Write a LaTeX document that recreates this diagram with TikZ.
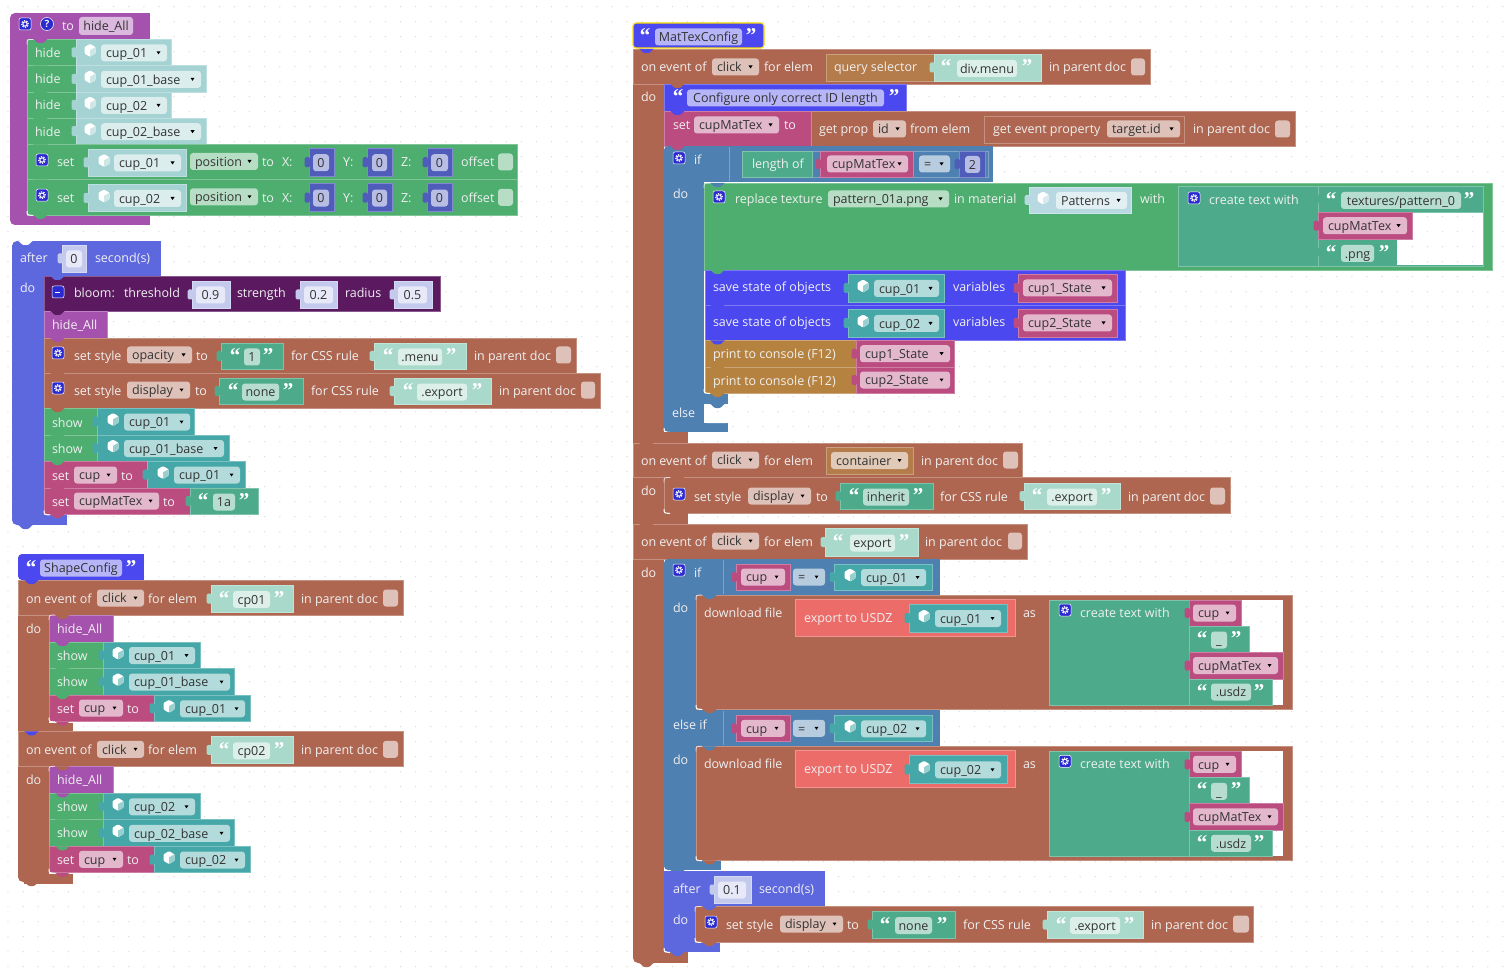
\documentclass[tikz,border=0pt]{standalone}
\usepackage{fontspec}
\setmainfont{Open Sans}
\newfontfamily\qf{Liberation Serif}
\definecolor{cGreen}{HTML}{4DAE6F}
\definecolor{cPurple}{HTML}{A552AE}
\definecolor{cTealL}{HTML}{A5D2D2}
\definecolor{cTeal}{HTML}{45A7A7}
\definecolor{cMath}{HTML}{4F5CBA}
\definecolor{cMathL}{HTML}{C4CAEE}
\definecolor{cBrown}{HTML}{AE6650}
\definecolor{cIndigo}{HTML}{5D68DF}
\definecolor{cBloom}{HTML}{5B1A60}
\definecolor{cPink}{HTML}{BB4C80}
\definecolor{cQuote}{HTML}{4A48EE}
\definecolor{cIf}{HTML}{4E80B2}
\definecolor{cPrint}{HTML}{B58240}
\definecolor{cQuery}{HTML}{B47B4B}
\definecolor{cRed}{HTML}{EC6C6A}
\definecolor{cStr}{HTML}{4DAB8C}
\definecolor{cMint}{HTML}{A9D9CA}
\definecolor{cPat}{HTML}{B8D9E2}
\definecolor{cDot}{HTML}{DADADA}
\definecolor{cInk}{HTML}{333333}
\definecolor{cIcon}{HTML}{2A2AD0}
\tikzset{
  lbl/.style={anchor=base west,inner sep=0pt,outer sep=0pt,text=white!94!black,font=\fontsize{12.5}{15}\selectfont},
  ink/.style={lbl,text=cInk},
  inkc/.style={ink,anchor=base},
  fld/.style={fill=white,fill opacity=.6,rounded corners=3pt,draw=none},
}
\newcount\nn
\newcommand\B[5]{\path[fill=#1,draw=#1!72!white,line width=.7pt] (#2,#3) rectangle (#4,#5);}
\newcommand\Tb[3]{\fill[#3,rounded corners=1.5pt] ({#1-4.5},{#2-5}) rectangle ({#1+1},{#2+5});}
\newcommand\Bp[3]{\fill[#3] ({#1+6},#2) .. controls ({#1+8},#2) and ({#1+9},{#2+4}) .. ({#1+12},{#2+4}) -- ({#1+15},{#2+4}) .. controls ({#1+18},{#2+4}) and ({#1+19},#2) .. ({#1+21},#2) -- cycle;}
\newcommand\T[3]{\global\advance\nn by 1 \node[lbl] (n\the\nn) at (#1,{#2+5}) {#3};}
\newcommand\FD[4]{\path[fld] (#1,{#3-8.5}) rectangle (#2,{#3+8.5});
  \global\advance\nn by 1 \node[ink] (n\the\nn) at ({#1+5},{#3+4.7}) {#4};
  \fill[black] ({#2-10.5},{#3-1.5}) -- ({#2-6.5},{#3-1.5}) -- ({#2-8.5},{#3+1.5}) -- cycle;}
\newcommand\FT[4]{\path[fld] (#1,{#3-8.5}) rectangle (#2,{#3+8.5});
  \global\advance\nn by 1 \node[inkc] (n\the\nn) at ({(#1+#2)/2},{#3+4.7}) {#4};}
\newcommand\Qo[2]{\global\advance\nn by 1 \node[anchor=base,inner sep=0pt,text=white,font=\qf\bfseries\fontsize{21}{21}\selectfont] (n\the\nn) at (#1,{#2+9.5}) {“};}
\newcommand\Qc[2]{\global\advance\nn by 1 \node[anchor=base,inner sep=0pt,text=white,font=\qf\bfseries\fontsize{21}{21}\selectfont] (n\the\nn) at (#1,{#2+9.5}) {”};}
\newcommand\Gear[2]{\fill[cIcon,draw=white,line width=.5pt,rounded corners=2pt] ({#1-6},{#2-6}) rectangle ({#1+6},{#2+6});
  \draw[white,line width=1pt] (#1,#2) circle (2.2pt);
  \draw[white,line width=1.1pt,dash pattern=on 1.2pt off 1.4pt] (#1,#2) circle (3.4pt);}
\newcommand\Cube[3]{\fill[white,rounded corners=1pt] (#1,{#2-6.5}) -- ({#1+5.5},{#2-3.2}) -- ({#1+5.5},{#2+3.2}) -- (#1,{#2+6.5}) -- ({#1-5.5},{#2+3.2}) -- ({#1-5.5},{#2-3.2}) -- cycle;
  \fill[#3!55!white] (#1,{#2-.2}) -- ({#1+5.5},{#2-3.2}) -- ({#1+5.5},{#2+3.2}) -- (#1,{#2+6.5}) -- cycle;}
\newcommand\Ic[2]{\draw[white,line width=1pt] (#1,{#2-4}) .. controls (#1,#2) .. ({#1+6},{#2+.5});}
\newcommand\Ict[2]{\draw[white,opacity=.7,line width=.8pt] (#1,{#2+5}) .. controls (#1,#2) .. ({#1+6},#2);}
% value blocks
\newcommand\CV[9]{\B{#1}{#2}{#4}{#3}{#5}\pgfmathsetmacro\cy{(#4+#5)/2}\Tb{#2}{\cy}{#1}\Cube{#6}{\cy-2}{#1}\FD{#7}{#8}{\cy+.5}{#9}}
\newcommand\VV[7]{\B{cPink}{#1}{#3}{#2}{#4}\pgfmathsetmacro\cy{(#3+#4)/2}\Tb{#1}{\cy}{cPink}\FD{#5}{#6}{\cy}{#7}}
\newcommand\NV[8]{\B{#1}{#2}{#4}{#3}{#5}\pgfmathsetmacro\cy{(#4+#5)/2}\Tb{#2}{\cy}{#1}\FT{#6}{#7}{\cy+.5}{#8}}
\newcommand\SV[6]{\B{#1}{#2}{#4}{#3}{#5}\pgfmathsetmacro\cy{(#4+#5)/2}\Tb{#2}{\cy}{#1}\SVb#6}
\newcommand\SVb[5]{\Qo{#1}{\cy-3}\FT{#2}{#3}{\cy+1}{#5}\Qc{#4}{\cy-3}}
\newcommand\IPD[4]{\T{#1}{#2}{in parent doc}\path[fld] (#3,{#2-8.5}) rectangle (#4,{#2+8.5});}
\newcommand\DotGrid[2]{\pgfmathtruncatemacro\ja{floor((#1-6.7)/15)}\pgfmathtruncatemacro\jb{ceil((#2-6.7)/15)}%
  \foreach \j in {\ja,...,\jb}{\draw[cDot,line width=1.4pt,line cap=round,dash pattern=on 0pt off 15.1pt] (8,{6.7+15*\j}) -- (1512,{6.7+15*\j});}}
\newcommand\Hole[4]{\begin{scope}\clip (#1,#2) rectangle (#3,#4);\fill[white] (#1,#2) rectangle (#3,#4);\DotGrid{#2}{#4}\end{scope}}
\newcommand\Spine[5]{\fill[#1,rounded corners=5pt] (#2,#3) rectangle ({#2+14},#5);\fill[#1] ({#2+7},#3) rectangle (#4,#5);}
\begin{document}
\begin{tikzpicture}[x=1pt,y=-1pt]
\useasboundingbox (0,0) rectangle (1512,973);
\fill[white] (0,0) rectangle (1512,973);
\DotGrid{0}{973}

%% ---------- function hide_All
\Spine{cPurple}{10}{13}{27}{225}
\fill[cPurple] (16,13) rectangle (150,39);
\fill[cPurple] (16,215) rectangle (150,225);
\Gear{25}{24}
\fill[cIcon,draw=white,line width=.5pt] (47,24) circle (6.5pt);
\node[lbl,anchor=base,font=\fontsize{10}{10}\selectfont\bfseries] (q) at (47,28) {?};
\T{62}{26}{to}
\path[fill=white,fill opacity=.6,rounded corners=3pt] (79,17) rectangle (133,35);
\node[inkc] (hna) at (106,30.5) {hide\_All};
\foreach \ya/\yb/\nm/\xe/\xf in {39/65.7/cup\_01/171/167,65.7/92/cup\_01\_base/206/201,92/118/cup\_02/171/167,118/144.5/cup\_02\_base/206/201}{
  \B{cGreen}{27}{\ya}{76}{\yb}
  \pgfmathsetmacro\yc{(\ya+\yb)/2}
  \T{35}{\yc}{hide}
  \CV{cTealL}{76}{\xe}{\ya}{\yb}{90}{101}{\xf}{\nm}
}
\foreach \ya in {144.5,179.7}{
  \pgfmathsetmacro\yb{\ya+35.2}
  \pgfmathsetmacro\yc{\ya+17.5}
  \B{cGreen}{27}{\ya}{517}{\yb}
  \Gear{42}{\yc-2}
  \T{57}{\yc}{set}
}
\CV{cTealL}{88}{186}{149}{176}{104}{114}{181}{cup\_01}
\CV{cTealL}{88}{186}{184.5}{211.5}{104}{114}{181}{cup\_02}
\foreach \yc/\nb in {162/0,197.3/1}{
  \pgfmathsetmacro\ya{\yc-13.5}
  \pgfmathsetmacro\yb{\yc+14}
  \FD{190}{258}{\yc-.5}{position}
  \T{262}{\yc}{to}\T{282}{\yc}{X:}\T{343}{\yc}{Y:}\T{401}{\yc}{Z:}\T{461}{\yc}{offset}
  \NV{cMath}{309}{334}{\ya}{\yb}{313}{329}{0}
  \NV{cMath}{367}{392}{\ya}{\yb}{372}{387}{0}
  \NV{cMath}{427}{452}{\ya}{\yb}{431}{448}{0}
  \path[fld] (498,\yc-8.5) rectangle (513,\yc+8.5);
}
\foreach \x/\y/\c in {27/39/cPurple,27/65.7/cGreen,27/92/cGreen,27/118/cGreen,27/144.5/cGreen,27/179.7/cGreen,27/214.9/cGreen}{\Bp{\x}{\y}{\c}}
\Ict{27}{39.5}\Ic{27}{215}

%% ---------- after 0 second(s)
\Spine{cIndigo}{12}{241}{44}{525}
\fill[cIndigo] (19,241) rectangle (161,276);
\fill[cIndigo] (19,515) rectangle (67,525);
\Bp{12}{241}{white}
\T{20}{258}{after}
\NV{cMathL}{62}{86}{245}{272}{66}{82}{0}
\T{95}{258}{second(s)}
\T{20}{288}{do}
\B{cBloom}{44}{276}{440}{311}
\fill[cIcon,draw=white,line width=.5pt,rounded corners=2pt] (52,286) rectangle (64,298);
\draw[white,line width=.8pt] (55,292) -- (60,292);
\T{74}{293}{bloom:}\T{124}{293}{threshold}
\NV{cMathL}{192}{230}{281}{308}{196}{225}{0.9}
\T{237}{293}{strength}
\NV{cMathL}{300}{337}{281}{308}{304}{333}{0.2}
\T{345}{293}{radius}
\NV{cMathL}{394}{432}{281}{308}{398}{427}{0.5}
\B{cPurple}{44}{311}{107}{338}
\T{52}{325}{hide\_All}
% set style opacity
\B{cBrown}{44}{338}{576}{373}
\Gear{58}{353}\T{74}{355}{set style}
\FD{127}{192}{355}{opacity}\T{196}{355}{to}
\SV{cStr}{221}{283}{343}{369}{{235}{244}{260}{268}{1}}
\T{291}{355}{for CSS rule}
\SV{cMint}{374}{466}{343}{369}{{388}{398}{442}{451}{.menu}}
\IPD{474}{355}{556}{571}
% set style display
\B{cBrown}{44}{373}{600}{408}
\Gear{58}{388}\T{74}{390}{set style}
\FD{127}{190}{390}{display}\T{195}{390}{to}
\SV{cStr}{219}{303}{378}{404}{{233}{242}{279}{288}{none}}
\T{311}{390}{for CSS rule}
\SV{cMint}{394}{491}{378}{404}{{408}{417}{467}{477}{.export}}
\IPD{499}{390}{581}{595}
% show
\B{cGreen}{44}{408}{97}{435}\T{52}{422}{show}
\CV{cTeal}{97}{194}{408}{435}{113}{124}{190}{cup\_01}
\B{cGreen}{44}{435}{97}{461}\T{52}{448}{show}
\CV{cTeal}{97}{229}{435}{461}{113}{124}{224}{cup\_01\_base}
\B{cPink}{44}{461}{147}{488}\T{52}{475}{set}
\FD{74}{117}{475}{cup}\T{121}{475}{to}
\CV{cTeal}{147}{245}{461}{488}{163}{174}{240}{cup\_01}
\B{cPink}{44}{488}{190}{514}\T{52}{501}{set}
\FD{74}{159}{501}{cupMatTex}\T{163}{501}{to}
\SV{cStr}{190}{258}{488}{514}{{203}{213}{235}{244}{1a}}
\foreach \y/\c in {276/cIndigo,311/cBloom,338/cPurple,373/cBrown,408/cBrown,435/cGreen,461/cGreen,488/cPink,514/cPink}{\Bp{44}{\y}{\c}}
\Bp{12}{276}{cIndigo}
\Bp{12}{525}{cIndigo}
\Ic{44}{514.5}

%% ---------- ShapeConfig
\fill[cQuote,rounded corners=4pt] (18,554) rectangle (30,580);
\fill[cQuote] (24,554) rectangle (144,580);
\Qo{31}{565}\FT{40}{122}{568}{ShapeConfig}\Qc{131}{565}
\Spine{cBrown}{18}{580}{49}{882}
\foreach \dy/\cc/\nb/\cub in {0/cp01/cup\_01/cup\_01\_base,151.3/cp02/cup\_02/cup\_02\_base}{
  \pgfmathsetmacro\ya{580+\dy}
  \pgfmathsetmacro\yb{615+\dy}
  \pgfmathsetmacro\ym{598+\dy}
  \B{cBrown}{18}{\ya}{403}{\yb}
  \T{26}{\ym}{on event of}
  \FD{97}{144}{\ym}{click}
  \T{148}{\ym}{for elem}
  \pgfmathsetmacro\sa{585+\dy}\pgfmathsetmacro\sb{612+\dy}
  \SV{cMint}{211}{293}{\sa}{\sb}{{224}{233}{270}{279}{\cc}}
  \IPD{301}{\ym}{383}{398}
  \pgfmathsetmacro\yt{628+\dy}
  \T{26}{\yt}{do}
  \pgfmathsetmacro\yf{723+\dy}\pgfmathsetmacro\yg{733+\dy}
  \fill[cBrown] (24,\yf) rectangle (73,\yg);
  \pgfmathsetmacro\ra{615+\dy}\pgfmathsetmacro\rb{642+\dy}\pgfmathsetmacro\rc{668+\dy}\pgfmathsetmacro\rd{695+\dy}\pgfmathsetmacro\re{721.5+\dy}
  \B{cPurple}{49}{\ra}{113}{\rb}
  \pgfmathsetmacro\tta{628+\dy}\T{57}{\tta}{hide\_All}
  \B{cGreen}{49}{\rb}{103}{\rc}\pgfmathsetmacro\tta{655+\dy}\T{57}{\tta}{show}
  \CV{cTeal}{103}{200}{\rb}{\rc}{118}{129}{195}{\nb}
  \B{cGreen}{49}{\rc}{103}{\rd}\pgfmathsetmacro\tta{681.5+\dy}\T{57}{\tta}{show}
  \CV{cTeal}{103}{234}{\rc}{\rd}{118}{129}{230}{\cub}
  \B{cPink}{49}{\rd}{154}{\re}\pgfmathsetmacro\tta{708+\dy}\T{57}{\tta}{set}
  \FD{79}{123}{\tta}{cup}\T{127}{\tta}{to}
  \CV{cTeal}{154}{250}{\rd}{\re}{169}{180}{245}{\nb}
  \Bp{18}{\ya}{cQuote}
  \Bp{49}{\ra}{cBrown}\Bp{49}{\rb}{cPurple}\Bp{49}{\rc}{cGreen}\Bp{49}{\rd}{cGreen}\Bp{49}{\re}{cPink}
  \Ict{49}{\ra}\Ic{49}{\re}
}
\Bp{18}{882}{cBrown}

%% ---------- MatTexConfig
\fill[cQuote,draw=yellow!80!orange,line width=1.2pt,rounded corners=3pt] (633,23) rectangle (764,48);
\Qo{645}{33}\FT{655}{742}{37}{MatTexConfig}\Qc{751}{33}
\Spine{cBrown}{633}{49}{664}{963}
\fill[cBrown] (640,952) rectangle (688,963);
\B{cBrown}{633}{49}{1150}{84}
\T{641}{67}{on event of}\FD{712}{759}{67}{click}\T{764}{67}{for elem}
\B{cQuery}{826}{54}{1041}{81}
\T{834}{67}{query selector}
\SV{cMint}{934}{1041}{54}{81}{{946}{957}{1017}{1027}{div.menu}}
\IPD{1049}{67}{1131}{1145}
\T{641}{97}{do}
% comment
\B{cQuote}{664}{84}{906}{111}
\Qo{678}{94}\FT{687}{884}{98}{Configure only correct ID length}\Qc{894}{94}
% set cupMatTex
\B{cPink}{664}{111}{811}{146}
\T{673}{125}{set}\FD{694}{779}{125}{cupMatTex}\T{784}{125}{to}
\B{cBrown}{811}{111}{1295}{146}
\T{819}{129}{get prop}\FD{873}{906}{129}{id}\T{910}{129}{from elem}
\B{cBrown}{984}{116}{1184}{143}
\T{993}{129}{get event property}\FD{1107}{1180}{129}{target.id}
\IPD{1193}{129}{1275}{1290}
% if
\fill[cIf,rounded corners=4pt] (664,146) rectangle (680,432);
\fill[cIf] (672,146) rectangle (704,432);
\fill[cIf] (672,146) rectangle (993,182);
\fill[cIf] (672,423) rectangle (728,432);
\fill[cIf] (704,393) rectangle (728,404);
\Gear{679}{158}\T{694}{160}{if}
\draw[cIf!72!white,line width=.7pt] (729,147) -- (729,181);
\path[fill=cIf,draw=cIf!72!white,line width=.7pt] (742,151) rectangle (988,177);
\B{cStr}{742}{151}{812}{177}\T{752}{164}{length of}
\VV{820}{913}{151}{177}{827}{908}{cupMatTex}
\FD{919}{950}{164}{=}
\NV{cMath}{959}{985}{151}{177}{965}{980}{2}
\T{673}{194}{do}\T{672}{412}{else}
% replace
\B{cGreen}{704}{183}{1492}{270}
\Gear{719}{197}\T{735}{199}{replace texture}
\FD{828}{949}{199}{pattern\_01a.png}\T{954}{199}{in material}
\CV{cPat}{1029}{1131}{187}{213}{1043}{1056}{1127}{Patterns}
\T{1140}{199}{with}
\B{cStr}{1178}{186}{1483}{266}
\Hole{1412}{212.5}{1483}{239}
\Hole{1397}{239}{1483}{265.5}
\Gear{1194}{198}\T{1209}{200}{create text with}
\draw[cStr!72!white,line width=.7pt] (1318,186) -- (1318,266) (1178,266) -- (1397,266) (1483,186) -- (1483,266);
\draw[cStr!72!white,line width=.7pt] (1318,212.5) -- (1483,212.5);
\Qo{1331}{197}\FT{1341}{1461}{200.5}{textures/pattern\_0}\Qc{1469}{197}
\VV{1318}{1412}{212.5}{239}{1323}{1407}{cupMatTex}
\Qo{1331}{250}\FT{1341}{1374}{253.5}{.png}\Qc{1384}{250}
\Tb{1318}{199}{cStr}\Tb{1318}{252}{cStr}
% save state
\foreach \ya/\yb/\nb/\vb in {270/305/cup\_01/cup1\_State,305/340.5/cup\_02/cup2\_State}{
  \B{cQuote}{705}{\ya}{1125}{\yb}
  \pgfmathsetmacro\yt{\ya+17}
  \T{713}{\yt}{save state of objects}\T{953}{\yt}{variables}
  \pgfmathsetmacro\sa{\ya+4}\pgfmathsetmacro\sb{\ya+32}
  \CV{cTeal}{848}{944}{\sa}{\sb}{863}{874}{939}{\nb}
  \VV{1018}{1117}{\sa}{\sb}{1023}{1112}{\vb}
}
\foreach \ya/\yb/\vb in {340.5/367/cup1\_State,367/393/cup2\_State}{
  \B{cPrint}{705}{\ya}{856}{\yb}
  \pgfmathsetmacro\yt{(\ya+\yb)/2}
  \T{713}{\yt}{print to console (F12)}
  \VV{856}{954}{\ya}{\yb}{860}{950}{\vb}
}
\foreach \y/\c in {183/cIf,270/cGreen,305/cQuote,340.5/cQuote,367/cPrint,393/cPrint}{\Bp{704}{\y}{\c}}
\Bp{664}{146}{cPink}\Bp{664}{111}{cQuote}\Bp{664}{84}{cBrown}\Bp{664}{432}{cIf}
\Ict{704}{183}\Ic{704}{393}
% else notch
\fill[white,rounded corners=3pt] (704,404) rectangle (730,423);
\Hole{708}{404}{730}{423}
\Bp{704}{404}{cIf}
\Ic{664}{432}
% event 2
\B{cBrown}{633}{443}{1022}{477}
\T{641}{460}{on event of}\FD{712}{759}{460}{click}\T{764}{460}{for elem}
\B{cQuery}{826}{447}{913}{474}\FD{831}{908}{460.5}{container}
\IPD{921}{460}{1003}{1018}
\fill[cBrown] (640,432) rectangle (688,443);
\T{641}{490}{do}
\B{cBrown}{664}{477}{1230}{513}
\Gear{679}{494}\T{694}{496}{set style}\FD{748}{811}{496}{display}\T{816}{496}{to}
\SV{cStr}{840}{933}{483}{509}{{854}{863}{909}{918}{inherit}}
\T{940}{496}{for CSS rule}
\SV{cMint}{1024}{1120}{483}{509}{{1037}{1047}{1097}{1106}{.export}}
\IPD{1128}{496}{1210}{1225}
\fill[cBrown] (640,513) rectangle (688,524);
\Ict{664}{477.5}\Ic{664}{513}
% event 3
\B{cBrown}{633}{524}{1027}{559}
\T{641}{541}{on event of}\FD{712}{759}{541}{click}\T{764}{541}{for elem}
\SV{cMint}{825}{918}{528}{556}{{838}{850}{895}{904}{export}}
\IPD{925}{541}{1008}{1022}
\T{641}{572}{do}
\Bp{633}{443}{cBrown}\Bp{633}{524}{cBrown}\Bp{664}{477}{cBrown}\Bp{633}{963}{cBrown}\Bp{633}{49}{cQuote}
% if / else-if
\fill[cIf,rounded corners=4pt] (664,559) rectangle (680,870);
\fill[cIf] (672,559) rectangle (696,870);
\fill[cIf] (672,559) rectangle (940,595);
\fill[cIf] (672,709) rectangle (940,746);
\fill[cIf] (672,860) rectangle (721,870);
\Gear{679}{570}\T{694}{572}{if}\T{673}{607}{do}
\T{673}{724}{else if}\T{673}{759}{do}
\foreach \dy/\nb in {0/cup\_01,151.3/cup\_02}{
  \pgfmathsetmacro\sa{564+\dy}\pgfmathsetmacro\sb{590+\dy}\pgfmathsetmacro\ym{577+\dy}
  \pgfmathsetmacro\lna{560+\dy}\pgfmathsetmacro\lnb{594+\dy}
  \draw[cIf!72!white,line width=.7pt] (723,\lna) -- (723,\lnb);
  \VV{736}{790}{\sa}{\sb}{741}{785}{cup}
  \FD{793}{825}{\ym}{=}
  \CV{cTeal}{834}{932}{\sa}{\sb}{850}{861}{926}{\nb}
  % download
  \pgfmathsetmacro\ra{595+\dy}\pgfmathsetmacro\rb{709+\dy}
  \B{cBrown}{696}{\ra}{1292}{\rb}
  \pgfmathsetmacro\tta{612+\dy}
  \T{704}{\tta}{download file}\T{1023}{\tta}{as}
  \pgfmathsetmacro\ea{599+\dy}\pgfmathsetmacro\eb{636+\dy}\pgfmathsetmacro\et{617+\dy}
  \B{cRed}{795}{\ea}{1015}{\eb}
  \T{804}{\et}{export to USDZ}
  \pgfmathsetmacro\ca{604+\dy}\pgfmathsetmacro\cb{632+\dy}
  \CV{cTeal}{909}{1007}{\ca}{\cb}{924}{935}{1001}{\nb}
  % create text
  \pgfmathsetmacro\ga{600+\dy}\pgfmathsetmacro\gb{626+\dy}\pgfmathsetmacro\gc{652+\dy}\pgfmathsetmacro\gd{679+\dy}\pgfmathsetmacro\ge{705+\dy}
  \pgfmathsetmacro\gh{610+\dy}
  \Hole{1241}{\ga}{1283}{\gc}
  \Hole{1272}{\gd}{1283}{\ge}
  \B{cStr}{1049}{\ga}{1189}{\ge}
  \Gear{1065}{\gh}\T{1080}{\tta}{create text with}
  \VV{1189}{1241}{\ga}{\gb}{1193}{1236}{cup}
  \B{cStr}{1189}{\gb}{1249}{\gc}
  \VV{1189}{1283}{\gc}{\gd}{1193}{1278}{cupMatTex}
  \B{cStr}{1189}{\gd}{1272}{\ge}
  \pgfmathsetmacro\yu{640+\dy}\pgfmathsetmacro\yv{636+\dy}
  \Qo{1202}{\yv}\FT{1211}{1227}{\yu}{\_}\Qc{1236}{\yv}
  \pgfmathsetmacro\yu{692+\dy}\pgfmathsetmacro\yv{689+\dy}
  \Qo{1202}{\yv}\FT{1211}{1251}{\yu}{.usdz}\Qc{1259}{\yv}
  \Bp{696}{\ra}{cIf}\Bp{696}{\rb}{cBrown}
  \Ict{696}{\ra}\Ic{696}{\rb}
}
\Bp{664}{870}{cIf}
% after 0.1
\fill[cIndigo,rounded corners=4pt] (664,871) rectangle (680,952);
\fill[cIndigo] (672,871) rectangle (695,952);
\fill[cIndigo] (664,871) rectangle (825,906);
\fill[cIndigo] (672,942) rectangle (720,952);
\T{673}{888}{after}
\NV{cMathL}{714}{751}{876}{903}{718}{746}{0.1}
\T{759}{888}{second(s)}
\T{673}{919}{do}
\B{cBrown}{695}{906}{1253}{942}
\Gear{711}{922}\T{726}{924}{set style}\FD{780}{843}{924}{display}\T{847}{924}{to}
\SV{cStr}{872}{955}{911}{938}{{885}{895}{932}{942}{none}}
\T{963}{924}{for CSS rule}
\SV{cMint}{1047}{1143}{911}{938}{{1061}{1070}{1120}{1129}{.export}}
\IPD{1151}{924}{1233}{1249}
\Bp{696}{906}{cIndigo}\Bp{696}{942}{cBrown}\Bp{664}{952}{cIndigo}
\Ict{695}{906.5}\Ic{695}{942}\Ic{664}{952}
\end{tikzpicture}
\end{document}
